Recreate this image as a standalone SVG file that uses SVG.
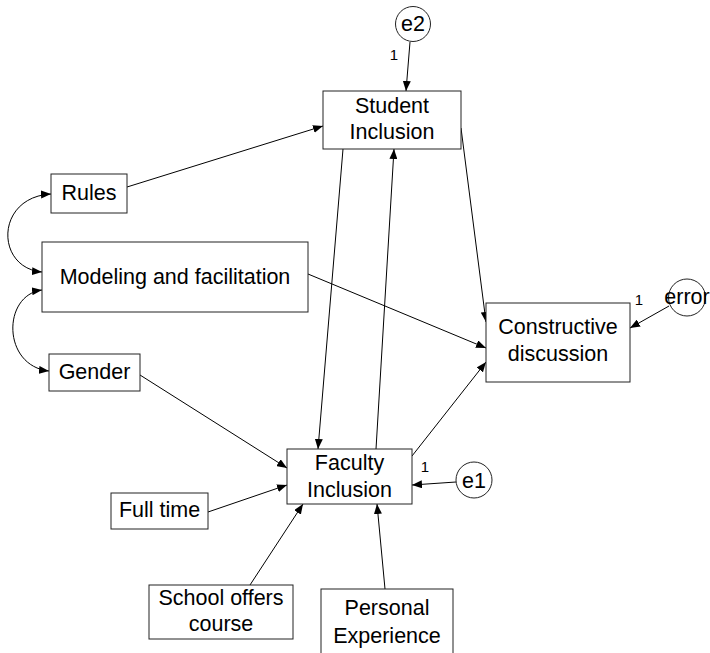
<svg xmlns="http://www.w3.org/2000/svg" width="710" height="653" viewBox="0 0 710 653">
<defs>
<marker id="ah" markerWidth="10" markerHeight="8" refX="10" refY="4" orient="auto-start-reverse" markerUnits="userSpaceOnUse">
<path d="M0,0 L10,4 L0,8 z" fill="#000"/>
</marker>
<style>
.box{fill:#fff;stroke:#222;stroke-width:1}
.circ{fill:#fff;stroke:#222;stroke-width:1}
.t{font-family:"Liberation Sans",Arial,sans-serif;font-size:21.5px;fill:#000;text-anchor:middle}
.lbl{font-family:"Liberation Sans",Arial,sans-serif;font-size:15px;fill:#000;text-anchor:middle}
.c{stroke:#000;stroke-width:1;fill:none;marker-end:url(#ah)}
.cc{stroke:#000;stroke-width:1;fill:none;marker-start:url(#ah);marker-end:url(#ah)}
</style>
</defs>
<rect width="710" height="653" fill="#fff"/>
<g id="connectors">
<line class="c" x1="410" y1="42" x2="406" y2="91"/>
<line class="c" x1="127" y1="187" x2="323" y2="126"/>
<line class="c" x1="343" y1="149" x2="318" y2="449"/>
<line class="c" x1="376" y1="449" x2="394" y2="149"/>
<line class="c" x1="461" y1="128" x2="486" y2="322"/>
<line class="c" x1="308" y1="274" x2="486" y2="348"/>
<line class="c" x1="140" y1="375" x2="287" y2="468"/>
<line class="c" x1="412" y1="456" x2="486" y2="362"/>
<line class="c" x1="456" y1="482" x2="412" y2="485"/>
<line class="c" x1="669" y1="306" x2="630" y2="328"/>
<line class="c" x1="208" y1="512" x2="287" y2="485"/>
<line class="c" x1="250" y1="585" x2="303" y2="504"/>
<line class="c" x1="385" y1="589" x2="377" y2="504"/>
<path class="cc" d="M51,194 C-5,197 -5,268 42,272"/>
<path class="cc" d="M42,290 C2,295 2,366 49,371"/>
<text class="lbl" x="394" y="60">1</text>
<text class="lbl" x="425" y="472">1</text>
<text class="lbl" x="639" y="305">1</text>
</g>
<g id="e2"><circle class="circ" cx="413" cy="24" r="17.5"/><text class="t" x="413" y="31">e2</text></g>
<g id="student"><rect class="box" x="323" y="91" width="138" height="58"/><text class="t" x="392" y="113">Student</text><text class="t" x="392" y="139">Inclusion</text></g>
<g id="rules"><rect class="box" x="51" y="174" width="76" height="39"/><text class="t" x="89" y="200">Rules</text></g>
<g id="modeling"><rect class="box" x="42" y="242" width="266" height="70"/><text class="t" x="175" y="284">Modeling and facilitation</text></g>
<g id="gender"><rect class="box" x="49" y="354" width="91" height="37"/><text class="t" x="94.5" y="379">Gender</text></g>
<g id="constructive"><rect class="box" x="486" y="303" width="144" height="79"/><text class="t" x="558" y="334">Constructive</text><text class="t" x="558" y="361">discussion</text></g>
<g id="error"><circle class="circ" cx="687" cy="297.5" r="18.5"/><text class="t" x="687" y="304">error</text></g>
<g id="faculty"><rect class="box" x="287" y="449" width="125" height="55"/><text class="t" x="349.5" y="470">Faculty</text><text class="t" x="349.5" y="497">Inclusion</text></g>
<g id="e1"><circle class="circ" cx="474" cy="480" r="18"/><text class="t" x="474" y="488">e1</text></g>
<g id="fulltime"><rect class="box" x="111" y="493" width="97" height="36"/><text class="t" x="159.5" y="517">Full time</text></g>
<g id="school"><rect class="box" x="149" y="585" width="144" height="54"/><text class="t" x="221" y="605">School offers</text><text class="t" x="221" y="631">course</text></g>
<g id="personal"><rect class="box" x="321" y="589" width="132" height="72"/><text class="t" x="387" y="615">Personal</text><text class="t" x="387" y="643">Experience</text></g>
</svg>
